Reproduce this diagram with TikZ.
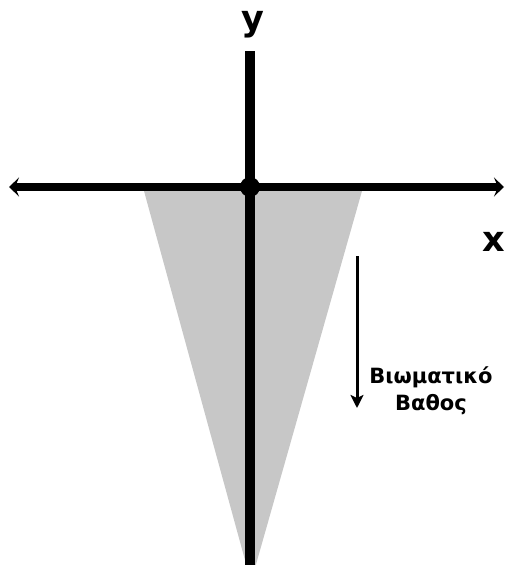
\documentclass[tikz,border=0pt]{standalone}
\usepackage{fontspec}
\setmainfont{DejaVu Sans}
\usetikzlibrary{arrows.meta}
\begin{document}
\begin{tikzpicture}[x=1pt,y=-1pt,
    haxis/.style={line width=8pt},
    vaxis/.style={line width=9.5pt},
    axislabel/.style={font=\bfseries\fontsize{35}{35}\selectfont,inner sep=0pt,anchor=base},
    depthlabel/.style={font=\bfseries\fontsize{21}{27}\selectfont,align=center,inner sep=0pt},
    origin node/.style={circle,fill=black,inner sep=0pt,minimum size=20pt} ]
    \useasboundingbox (0,0) rectangle (506,565);
    \fill [black!22] (144,191) -- (362,191) -- (251,582) -- cycle;
    \node at (250,187) [origin node] (O) {};
    \coordinate (L) at (9,187);
    \coordinate (R) at (504,187);
    \coordinate (T) at (250,51);
    \coordinate (B) at (250,565);
    \draw [haxis,{Stealth[length=10pt,width=19pt,inset=4pt]}-{Stealth[length=10pt,width=19pt,inset=4pt]}] (L) -- (R);
    \draw [vaxis] (T) -- (B);
    \node at (253,30) [axislabel] (ylab) {y};
    \node at (494,251) [axislabel] (xlab) {x};
    \coordinate (D1) at (357,256);
    \coordinate (D2) at (357,408);
    \draw [line width=3pt,-{Stealth[length=13pt,width=13pt,inset=3pt]}] (D1) -- (D2);
    \node at (431,391) [depthlabel] (depth) {Βιωματικό\\Βαθος};
\end{tikzpicture}
\end{document}
